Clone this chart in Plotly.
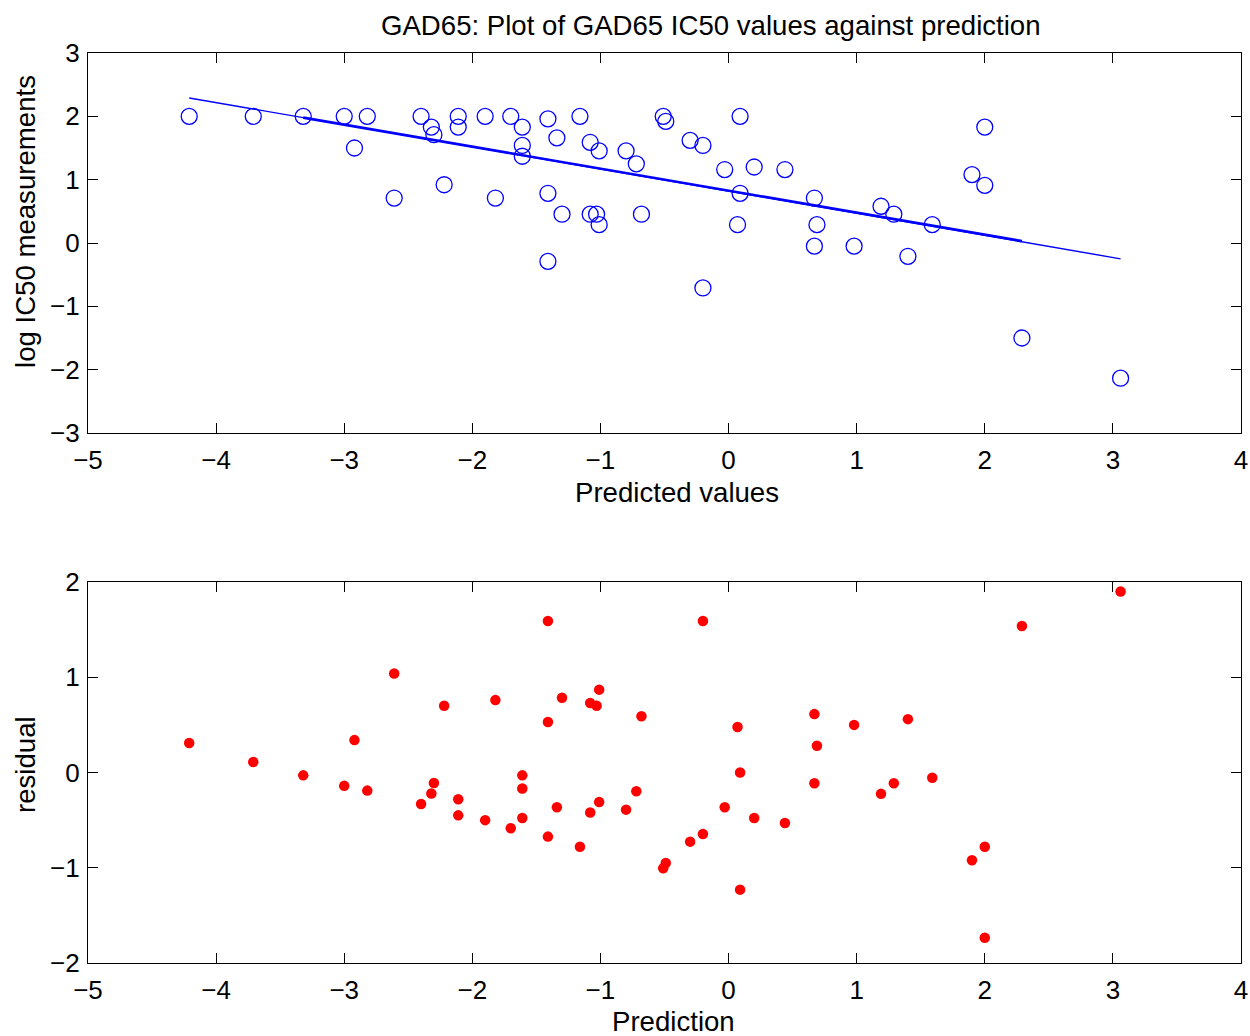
import plotly.graph_objects as go

# Top plot: predicted values vs log IC50 measurements
pred = [-4.21, -3.71, -3.32, -3.00, -2.82, -2.92, -2.61, -2.40, -2.32, -2.30,
        -2.11, -2.11, -2.22, -1.90, -1.82, -1.70, -1.61, -1.61, -1.61, -1.41,
        -1.41, -1.41, -1.34, -1.30, -1.16, -1.08, -1.08, -1.03, -1.01, -1.01,
        -0.80, -0.72, -0.68, -0.51, -0.49, -0.30, -0.20, -0.20, -0.03, 0.09,
        0.09, 0.07, 0.20, 0.44, 0.67, 0.69, 0.67, 0.98, 1.19, 1.29,
        1.59, 1.40, 1.90, 2.00, 2.00, 2.29, 3.06]
measured = [2.00, 2.00, 2.00, 2.00, 2.00, 1.50, 0.71, 2.00, 1.83, 1.71,
            2.00, 1.83, 0.92, 2.00, 0.71, 2.00, 1.83, 1.54, 1.37, 1.96,
            0.785, -0.29, 1.66, 0.455, 2.00, 1.59, 0.455, 0.455, 1.455, 0.29,
            1.455, 1.25, 0.455, 2.00, 1.92, 1.62, 1.54, -0.71, 1.16, 2.00,
            0.785, 0.29, 1.20, 1.16, 0.71, 0.29, -0.05, -0.05, 0.58, 0.455,
            0.29, -0.21, 1.08, 0.91, 1.83, -1.50, -2.135]
# Bottom plot: residuals
residual = [0.31, 0.11, -0.03, -0.14, -0.19, 0.34, 1.04, -0.33, -0.22, -0.11,
            -0.45, -0.28, 0.70, -0.50, 0.76, -0.585, -0.477, -0.168, -0.03, -0.673,
            0.53, 1.59, -0.365, 0.785, -0.78, -0.42, 0.73, 0.70, -0.31, 0.87,
            -0.39, -0.196, 0.59, -1.006, -0.95, -0.726, -0.645, 1.59, -0.365, -1.23,
            0.0, 0.477, -0.477, -0.53, -0.112, 0.28, 0.613, 0.50, -0.224, -0.112,
            -0.056, 0.56, -0.922, -0.78, -1.735, 1.538, 1.90]

# Fitted regression line
fit_x = [-4.21, -3.32, 2.29, 3.06]
fit_y = [2.29, 1.98, 0.03, -0.25]

x_ticks = [-5, -4, -3, -2, -1, 0, 1, 2, 3, 4]
y1_ticks = [-3, -2, -1, 0, 1, 2, 3]
y2_ticks = [-2, -1, 0, 1, 2]

FONT = "Liberation Sans, Arial, Helvetica, sans-serif"
BLUE = "#0000ff"
RED = "#ff0000"

fig = go.Figure()
fig.add_trace(go.Scatter(x=fit_x, y=fit_y, mode="lines",
                         line=dict(color=BLUE, width=1.4),
                         xaxis="x", yaxis="y", showlegend=False))
fig.add_trace(go.Scatter(x=fit_x[1:3], y=fit_y[1:3], mode="lines",
                         line=dict(color=BLUE, width=2.6),
                         xaxis="x", yaxis="y", showlegend=False))
fig.add_trace(go.Scatter(x=pred, y=measured, mode="markers",
                         marker=dict(symbol="circle-open", size=16,
                                     color=BLUE, line=dict(width=1.3, color=BLUE)),
                         xaxis="x", yaxis="y", showlegend=False))
fig.add_trace(go.Scatter(x=pred, y=residual, mode="markers",
                         marker=dict(symbol="circle", size=10.5, color=RED,
                                     line=dict(width=0)),
                         xaxis="x2", yaxis="y2", showlegend=False))

W, H = 1250, 1036
ml, mt = 88, 53
mr = W - 1241
mb = H - 963
pw = W - ml - mr
ph = H - mt - mb

def yfrac(py):
    return (963 - py) / ph

def xfrac(px):
    return (px - 88) / pw

axis_common = dict(showline=True, linecolor="black", linewidth=1.2,
                   mirror="allticks", ticks="inside", ticklen=10,
                   tickwidth=1.2, tickcolor="black", showgrid=False,
                   zeroline=False, automargin=False,
                   tickfont=dict(family=FONT, size=26, color="black"))

LBL = 27.6

fig.update_layout(
    width=W, height=H,
    margin=dict(l=ml, r=mr, t=mt, b=mb, autoexpand=False),
    paper_bgcolor="white", plot_bgcolor="white",
    font=dict(family=FONT, color="black"),
    xaxis=dict(domain=[0, 1], range=[-5, 4], tickvals=x_ticks,
               anchor="y", ticklabelstandoff=4, **axis_common),
    yaxis=dict(domain=[yfrac(433), 1.0], range=[-3, 3], tickvals=y1_ticks,
               anchor="x", ticklabelstandoff=2, **axis_common),
    xaxis2=dict(domain=[0, 1], range=[-5, 4], tickvals=x_ticks,
                anchor="y2", ticklabelstandoff=4, **axis_common),
    yaxis2=dict(domain=[0, yfrac(582)], range=[-2, 2], tickvals=y2_ticks,
                anchor="x2", ticklabelstandoff=2, **axis_common),
    annotations=[
        dict(text="GAD65: Plot of GAD65 IC50 values against prediction",
             xref="paper", yref="paper", x=xfrac(711),
             y=yfrac(25), xanchor="center", yanchor="middle", showarrow=False,
             font=dict(family=FONT, size=LBL, color="black")),
        dict(text="Predicted values", xref="paper", yref="paper",
             x=xfrac(677), y=yfrac(493),
             xanchor="center", yanchor="middle", showarrow=False,
             font=dict(family=FONT, size=LBL, color="black")),
        dict(text="Prediction", xref="paper", yref="paper",
             x=xfrac(673), y=yfrac(1021),
             xanchor="center", yanchor="middle", showarrow=False,
             font=dict(family=FONT, size=LBL, color="black")),
        dict(text="log IC50 measurements", xref="paper", yref="paper",
             x=xfrac(25), y=yfrac(222), textangle=-90,
             xanchor="center", yanchor="middle", showarrow=False,
             font=dict(family=FONT, size=LBL, color="black")),
        dict(text="residual", xref="paper", yref="paper",
             x=xfrac(25), y=yfrac(765), textangle=-90,
             xanchor="center", yanchor="middle", showarrow=False,
             font=dict(family=FONT, size=LBL, color="black")),
    ],
)

fig.write_html("out.html",
               config={"displayModeBar": False},
               post_script="document.body.style.margin='0px';"
                           "document.body.style.overflow='hidden';")
